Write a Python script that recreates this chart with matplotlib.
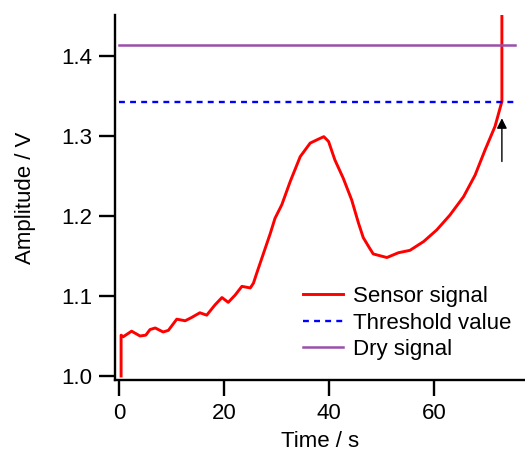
import numpy as np
import matplotlib
matplotlib.use("Agg")
import matplotlib.pyplot as plt

plt.rcParams['font.family'] = ['Liberation Sans', 'DejaVu Sans']

# sensor signal (time in s, amplitude in V)
t_sensor = [0.4, 0.4, 0.8, 2.4, 4.0, 5.1, 5.9, 6.9, 8.4, 9.4, 11.0, 12.6, 13.8,
            15.4, 16.7, 18.3, 19.6, 20.8, 22.1, 23.4, 25.0, 25.6, 26.2, 27.5, 28.8,
            29.7, 31.0, 32.6, 34.5, 36.4, 38.0, 39.0, 39.9, 41.1, 42.7, 44.3, 45.6,
            46.5, 47.5, 48.4, 51.0, 53.2, 55.4, 58.0, 60.5, 63.0, 65.6, 67.8, 69.7,
            71.6, 72.9, 72.9]
v_sensor = [1.0, 1.051, 1.049, 1.056, 1.050, 1.051, 1.058, 1.060, 1.055, 1.057,
            1.071, 1.069, 1.073, 1.079, 1.076, 1.089, 1.098, 1.092, 1.101, 1.112, 1.110,
            1.116, 1.128, 1.153, 1.178, 1.197, 1.214, 1.243, 1.274, 1.291, 1.296, 1.299,
            1.293, 1.270, 1.247, 1.220, 1.191, 1.173, 1.162, 1.1525, 1.148, 1.154, 1.157,
            1.168, 1.1825, 1.201, 1.224, 1.251, 1.2825, 1.312, 1.343, 1.60]

t_ref = [0.0, 75.4]
threshold = [1.3425, 1.3425]
dry = [1.414, 1.414]

arrow_t = 72.9
arrow_from = 1.268
arrow_to = 1.322

fig = plt.figure(figsize=(5.25, 4.57), dpi=100)
ax = fig.add_axes([115/525, 77/457, 410/525, 365/457])

ax.plot(t_sensor, v_sensor, color='#FF0000', lw=2.1, label='Sensor signal')
ax.plot(t_ref, threshold, color='#0000FF', lw=1.7, dashes=(2.5, 2.2), label='Threshold value')
ax.plot(t_ref, dry, color='#9A4FAA', lw=1.8, label='Dry signal')

ax.annotate('', xy=(arrow_t, arrow_to), xytext=(arrow_t, arrow_from),
            arrowprops=dict(arrowstyle='-|>', color='black', lw=1.0,
                            mutation_scale=15, shrinkA=0, shrinkB=0))

ax.set_xlim(-0.76, 77.3)
ax.set_ylim(0.995, 1.451)
ax.set_xticks([0, 20, 40, 60])
ax.set_yticks([1.0, 1.1, 1.2, 1.3, 1.4])
ax.set_yticklabels(['1.0', '1.1', '1.2', '1.3', '1.4'])

for s in ['top', 'right']:
    ax.spines[s].set_visible(False)
for s in ['left', 'bottom']:
    ax.spines[s].set_linewidth(1.7)
ax.tick_params(direction='out', length=11.5, width=1.7, labelsize=16, pad=5)

ax.set_xlabel('Time / s', fontsize=16, labelpad=5)
ax.set_ylabel('Amplitude / V', fontsize=16, labelpad=18)

ax.legend(loc='upper left', bbox_to_anchor=(303/525, 1 - 286/457),
          bbox_transform=fig.transFigure, frameon=False, fontsize=16,
          handlelength=1.8, handletextpad=0.45, labelspacing=0.25,
          borderpad=0, borderaxespad=0)

fig.savefig('out.png', dpi=100)
